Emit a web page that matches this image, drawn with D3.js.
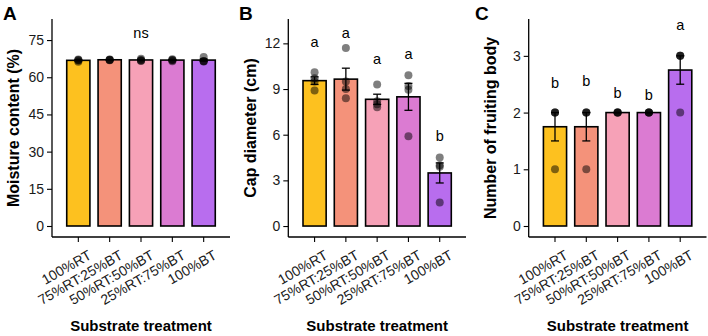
<!DOCTYPE html>
<html>
<head>
<meta charset="utf-8">
<script src="https://cdn.jsdelivr.net/npm/d3@7"></script>
<style>
  body { margin: 0; background: #fff; }
  svg { font-family: "Liberation Sans", Arial, sans-serif; display: block; }
</style>
</head>
<body>
<div id="chart"></div>
<script>
// Categories (substrate treatments) and bar colours
const categories = ["100%RT", "75%RT:25%BT", "50%RT:50%BT", "25%RT:75%BT", "100%BT"];
const barColors = ["#FDC11F", "#F4927A", "#F6A1B7", "#DB7BD2", "#B86DEE"];

// Replicate values per treatment
const moisturePoints = [
    [66.3, 66.8, 67.2, 67.0],
    [67.0, 67.2, 66.9, 67.1],
    [67.5, 66.6, 67.0, 66.8],
    [67.3, 66.5, 66.9, 67.0],
    [68.2, 66.4, 66.6, 66.5]
];
const capPoints = [
    [10.1, 9.7, 9.5, 8.9],
    [11.7, 9.5, 9.0, 8.4],
    [9.3, 8.2, 8.0, 7.8],
    [9.9, 9.2, 8.95, 5.9],
    [4.5, 4.0, 3.9, 1.55]
];
const fruitPoints = [
    [2, 2, 2, 1],
    [2, 2, 2, 1],
    [2, 2, 2, 2],
    [2, 2, 2, 2],
    [3, 3, 3, 2]
];

// Significance letters and their heights (data units)
const moistureLetters = ["", "", "ns", "", ""];
const moistureLetterY = [0, 0, 77.7, 0, 0];
const capLetters = ["a", "a", "a", "a", "b"];
const capLetterY = [12.1, 12.7, 10.95, 11.3, 5.9];
const fruitLetters = ["b", "b", "b", "b", "a"];
const fruitLetterY = [2.52, 2.55, 2.35, 2.32, 3.55];

// Tick values
const moistureTicks = [0, 15, 30, 45, 60, 75];
const capTicks = [0, 3, 6, 9, 12];
const fruitTicks = [0, 1, 2, 3];

const width = 708, height = 336;
const svg = d3.select("#chart").append("svg")
    .attr("width", width)
    .attr("height", height);

const panelTop = 19, panelBottom = 237;

const panels = [
    { tag: "A", ox: 0, left: 52, right: 230, domain: [-4.44, 83.5], ticks: moistureTicks,
      points: moisturePoints, letters: moistureLetters, letterY: moistureLetterY,
      ytitle: "Moisture content (%)", ytitleX: 19 },
    { tag: "B", ox: 236, left: 288.3, right: 466, domain: [-0.72, 13.6], ticks: capTicks,
      points: capPoints, letters: capLetters, letterY: capLetterY,
      ytitle: "Cap diameter (cm)", ytitleX: 256 },
    { tag: "C", ox: 472, left: 528.7, right: 706.5, domain: [-0.194, 3.65], ticks: fruitTicks,
      points: fruitPoints, letters: fruitLetters, letterY: fruitLetterY,
      ytitle: "Number of fruiting body", ytitleX: 496 }
];

panels.forEach(drawPanel);

function drawPanel(p) {
    const g = svg.append("g");

    // summary stats: mean and standard error
    const stats = p.points.map((vals, i) => {
        const m = d3.mean(vals);
        const se = d3.deviation(vals) / Math.sqrt(vals.length);
        return { cat: categories[i], mean: m, se: se, vals: vals, i: i };
    });

    // discrete x scale with ggplot-like 0.6 expansion
    const x = d3.scaleBand()
        .domain(categories)
        .range([p.left, p.right])
        .paddingInner(0.26)
        .paddingOuter(0.6 - 0.13);
    const cx = (c) => x(c) + x.bandwidth() / 2;

    const y = d3.scaleLinear()
        .domain(p.domain)
        .range([panelBottom, panelTop]);

    // Bars
    g.selectAll(".bar")
        .data(stats)
        .join("rect")
        .attr("class", "bar")
        .attr("x", (d) => x(d.cat))
        .attr("y", (d) => y(d.mean))
        .attr("width", x.bandwidth())
        .attr("height", (d) => y(0) - y(d.mean))
        .attr("fill", (d) => barColors[d.i])
        .attr("stroke", "#000")
        .attr("stroke-width", 1.6);

    // Error bars (mean ± SE)
    const capW = 4;
    const eb = g.selectAll(".err")
        .data(stats)
        .join("g")
        .attr("class", "err")
        .attr("stroke", "#000")
        .attr("stroke-width", 1.3);
    eb.append("line")
        .attr("x1", (d) => cx(d.cat)).attr("x2", (d) => cx(d.cat))
        .attr("y1", (d) => y(d.mean - d.se)).attr("y2", (d) => y(d.mean + d.se));
    eb.append("line")
        .attr("x1", (d) => cx(d.cat) - capW).attr("x2", (d) => cx(d.cat) + capW)
        .attr("y1", (d) => y(d.mean + d.se)).attr("y2", (d) => y(d.mean + d.se));
    eb.append("line")
        .attr("x1", (d) => cx(d.cat) - capW).attr("x2", (d) => cx(d.cat) + capW)
        .attr("y1", (d) => y(d.mean - d.se)).attr("y2", (d) => y(d.mean - d.se));

    // Replicate points
    const pts = stats.flatMap((d) => d.vals.map((v) => ({ cat: d.cat, v: v })));
    g.selectAll(".pt")
        .data(pts)
        .join("circle")
        .attr("class", "pt")
        .attr("cx", (d) => cx(d.cat))
        .attr("cy", (d) => y(d.v))
        .attr("r", 4)
        .attr("fill", "#000")
        .attr("fill-opacity", 0.5);

    // Letters
    g.selectAll(".lab")
        .data(stats.filter((d) => p.letters[d.i] !== ""))
        .join("text")
        .attr("class", "lab")
        .attr("x", (d) => cx(d.cat))
        .attr("y", (d) => y(p.letterY[d.i]))
        .attr("dy", "0.35em")
        .attr("text-anchor", "middle")
        .attr("font-size", "14.5px")
        .attr("fill", "#000")
        .text((d) => p.letters[d.i]);

    // Y axis
    const yAxis = g.append("g")
        .attr("transform", `translate(${p.left},0)`)
        .call(d3.axisLeft(y).tickValues(p.ticks).tickFormat(d3.format("d"))
            .tickSize(5).tickPadding(3).tickSizeOuter(0))
        .attr("font-family", null)
        .attr("font-size", null);
    yAxis.select(".domain").attr("d", `M0,${panelTop}V${panelBottom}`).attr("stroke-width", 1.3);
    yAxis.selectAll(".tick line").attr("stroke-width", 1.1);
    yAxis.selectAll(".tick text").attr("font-size", "14px").attr("fill", "#1a1a1a");

    // X axis
    const xAxis = g.append("g")
        .attr("transform", `translate(0,${panelBottom})`)
        .call(d3.axisBottom(x).tickSize(5).tickSizeOuter(0))
        .attr("font-family", null)
        .attr("font-size", null);
    xAxis.select(".domain").attr("d", `M${p.left},0H${p.right}`).attr("stroke-width", 1.3);
    xAxis.selectAll(".tick line").attr("stroke-width", 1.1);
    xAxis.selectAll(".tick text")
        .attr("font-size", "14px")
        .attr("fill", "#1a1a1a")
        .attr("text-anchor", "end")
        .attr("y", 0)
        .attr("dy", 0)
        .attr("transform", "translate(14,21) rotate(-30)");

    // Axis titles
    g.append("text")
        .attr("x", (p.left + p.right) / 2)
        .attr("y", 331)
        .attr("text-anchor", "middle")
        .attr("font-size", "15px")
        .attr("font-weight", "bold")
        .text("Substrate treatment");

    g.append("text")
        .attr("transform", `translate(${p.ytitleX},${(panelTop + panelBottom) / 2}) rotate(-90)`)
        .attr("text-anchor", "middle")
        .attr("font-size", "16px")
        .attr("font-weight", "bold")
        .text(p.ytitle);

    // Panel tag
    g.append("text")
        .attr("x", p.ox + 3)
        .attr("y", 20)
        .attr("font-size", "19px")
        .attr("font-weight", "bold")
        .text(p.tag);
}
</script>
</body>
</html>
